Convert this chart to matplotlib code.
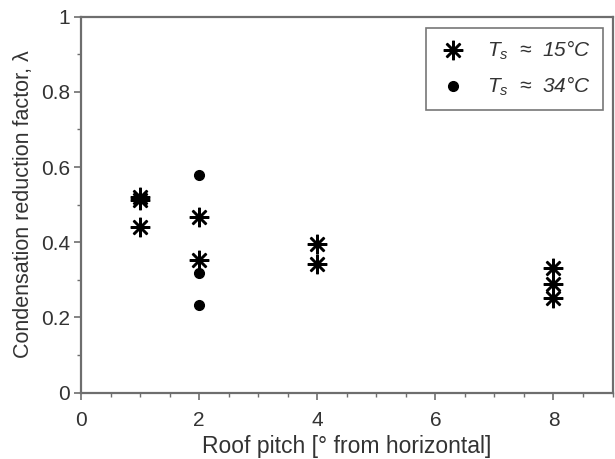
import matplotlib
matplotlib.use("Agg")
import matplotlib.pyplot as plt
from matplotlib.ticker import MultipleLocator

plt.rcParams['font.family'] = ['Liberation Sans', 'DejaVu Sans']
plt.rcParams['mathtext.fontset'] = 'custom'
plt.rcParams['mathtext.it'] = 'Liberation Sans:italic'
plt.rcParams['mathtext.rm'] = 'Liberation Sans'

# condensation reduction factor vs roof pitch
pitch_15 = [1, 1, 1, 2, 2, 4, 4, 8, 8, 8]
lam_15 = [0.520, 0.512, 0.441, 0.467, 0.352, 0.395, 0.341, 0.330, 0.290, 0.252]

pitch_34 = [2, 2, 2]
lam_34 = [0.579, 0.317, 0.232]

y_ticks = [0, 0.2, 0.4, 0.6, 0.8, 1.0]
y_ticklabels = ['0', '0.2', '0.4', '0.6', '0.8', '1']

axis_col = '#6e6e6e'
text_col = '#333333'

fig = plt.figure(figsize=(6.15, 4.59), dpi=100)
ax = fig.add_axes([81 / 615, 1 - 392.5 / 459, (612.5 - 81) / 615, (392.5 - 16.7) / 459])

ax.plot(pitch_15, lam_15, linestyle='none', marker=(8, 2, 0), markersize=14,
        markeredgewidth=1.8, color='black', label=r'$T_s$  ≈  15°C')
ax.plot(pitch_34, lam_34, linestyle='none', marker='o', markersize=7,
        color='black', label=r'$T_s$  ≈  34°C')

ax.set_xlim(0, 9)
ax.set_ylim(0, 1)
ax.xaxis.set_major_locator(MultipleLocator(2))
ax.xaxis.set_minor_locator(MultipleLocator(0.5))
ax.yaxis.set_minor_locator(MultipleLocator(0.1))
ax.set_yticks(y_ticks)
ax.set_yticklabels(y_ticklabels)

for s in ax.spines.values():
    s.set_color(axis_col)
    s.set_linewidth(1.6)
ax.tick_params(which='major', direction='out', length=5, width=1.2,
               color=axis_col, labelsize=15, labelcolor=text_col, pad=3)
ax.tick_params(axis='x', which='major', pad=8)
ax.tick_params(which='minor', direction='out', length=3, width=1.0, color=axis_col)

ax.set_xlabel('Roof pitch [° from horizontal]', fontsize=16.5, color=text_col, labelpad=4)
ax.set_ylabel('Condensation reduction factor, λ', fontsize=15.5, color=text_col, labelpad=5)

leg = ax.legend(loc='upper right', fontsize=15, frameon=True, fancybox=False,
                edgecolor='#555555', borderpad=0.55, handletextpad=0.9,
                handlelength=1.5, borderaxespad=0,
                bbox_to_anchor=(0.982, 0.971), labelspacing=0.6)
leg.get_frame().set_linewidth(1.2)
for t in leg.get_texts():
    t.set_style('italic')
    t.set_color(text_col)

fig.savefig('out.png', dpi=100)
